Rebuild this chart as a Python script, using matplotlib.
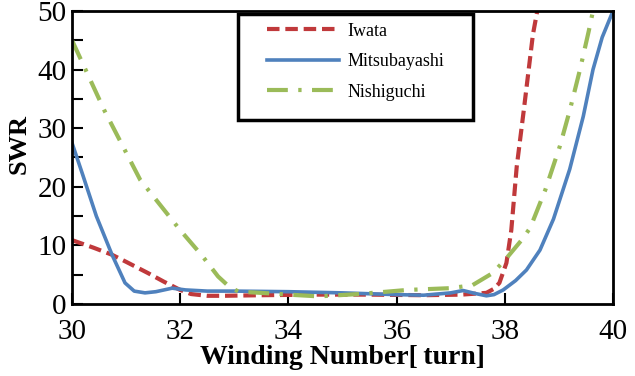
import matplotlib.pyplot as plt
from matplotlib.ticker import MultipleLocator
from matplotlib.patches import Rectangle

# Winding number vs SWR
iwata_x = [30.0, 30.4, 30.74, 31.0, 31.4, 31.7, 32.0, 32.2, 32.5, 32.8, 33.5, 34.5, 35.5, 36.5, 37.2, 37.66,
           37.8, 37.9, 38.03, 38.12, 38.22, 38.35, 38.52, 38.6]
iwata_y = [10.9, 9.6, 8.4, 7.2, 5.3, 3.8, 2.4, 1.7, 1.4, 1.4, 1.5, 1.6, 1.6, 1.5, 1.6, 1.9,
           2.6, 3.6, 7.0, 12.6, 23.4, 33.0, 46.0, 50.0]

mitsu_x = [30.0, 30.2, 30.45, 30.74, 30.98, 31.15, 31.35, 31.55, 31.85, 32.1, 32.5, 33.0, 34.0, 35.0, 36.0,
           36.5, 37.0, 37.23, 37.45, 37.66, 37.8, 37.97, 38.2, 38.4, 38.65, 38.9, 39.2, 39.45, 39.63, 39.8, 40.0]
mitsu_y = [27.5, 22.0, 15.0, 8.4, 3.6, 2.2, 1.9, 2.1, 2.7, 2.4, 2.2, 2.2, 2.1, 1.9, 1.6,
           1.5, 1.9, 2.3, 1.8, 1.4, 1.6, 2.4, 4.0, 5.8, 9.2, 14.5, 23.0, 32.0, 40.0, 45.5, 50.0]

nishi_x = [30.0, 30.6, 31.26, 32.0, 32.4, 32.7, 32.9, 33.08, 33.5, 34.0, 34.56, 35.3, 36.2, 36.99, 37.4,
           37.78, 38.03, 38.31, 38.47, 38.75, 39.02, 39.2, 39.39, 39.55, 39.63]
nishi_y = [45.0, 33.0, 21.2, 12.6, 8.3, 4.7, 3.0, 2.1, 1.9, 1.6, 1.3, 1.7, 2.4, 2.7, 3.2,
           5.3, 7.8, 10.9, 13.0, 19.5, 27.0, 33.0, 40.0, 46.5, 50.0]

plt.rcParams['font.family'] = ['Liberation Serif', 'DejaVu Serif']

W, H = 635, 376
fig = plt.figure(figsize=(W / 100, H / 100), dpi=100)
ax = fig.add_axes([72 / W, 1 - 304 / H, (613 - 72) / W, (304 - 11) / H])

ax.plot(iwata_x, iwata_y, color='#C0393B', lw=3, dashes=(3, 1.4), label='Iwata')
ax.plot(mitsu_x, mitsu_y, color='#4F81BD', lw=2.6, label='Mitsubayashi')
ax.plot(nishi_x, nishi_y, color='#9BBB59', lw=3, dashes=(5, 2.5, 0.8, 2.5), label='Nishiguchi')

ax.set_xlim(30, 40)
ax.set_ylim(0, 50)
ax.set_xticks([30, 32, 34, 36, 38, 40])
ax.yaxis.set_major_locator(MultipleLocator(10))
ax.yaxis.set_minor_locator(MultipleLocator(5))
ax.tick_params(axis='both', which='both', direction='in', length=8, width=1.5,
               labelsize=21, top=False, right=False)
ax.tick_params(axis='x', pad=11)
ax.tick_params(axis='y', pad=4)
for sp in ax.spines.values():
    sp.set_linewidth(2)

ax.set_xlabel('Winding Number[\u2009turn]', fontsize=20, fontweight='bold', labelpad=0)
ax.set_ylabel('SWR', fontsize=19, fontweight='bold')
ax.yaxis.set_label_coords(-41 / 541, (304 - 144) / 293)

leg = ax.legend(loc='upper left', bbox_to_anchor=((265 - 72 - 2) / 541, 1 - 8 / 293),
                fontsize=13, frameon=False, handlelength=4.0,
                handletextpad=0.5, labelspacing=0.75, borderpad=0.2, borderaxespad=0)
box = Rectangle((238 / W, 1 - 120 / H), (473 - 238) / W, (120 - 14) / H, transform=fig.transFigure,
                fill=True, facecolor='white', edgecolor='black', lw=2.5, zorder=4)
ax.add_patch(box)
leg.set_zorder(5)

fig.savefig('out.png', dpi=100)
